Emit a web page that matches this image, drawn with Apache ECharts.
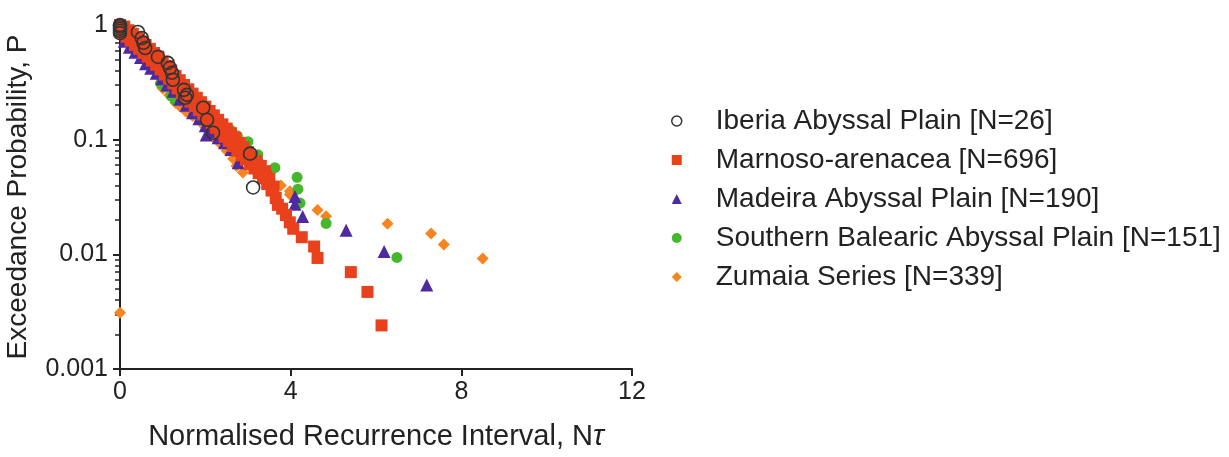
<!DOCTYPE html>
<html>
<head>
<meta charset="utf-8">
<script src="https://cdn.jsdelivr.net/npm/echarts@6/dist/echarts.min.js"></script>
<style>
html,body{margin:0;padding:0;background:#fff;}
#chart{width:1229px;height:457px;}
</style>
</head>
<body>
<div id="chart"></div>
<script>
// ---- Data ----
const seriesNames = [
  'Iberia Abyssal Plain [N=26]',
  'Marnoso-arenacea [N=696]',
  'Madeira Abyssal Plain [N=190]',
  'Southern Balearic Abyssal Plain [N=151]',
  'Zumaia Series [N=339]'
];
const xTicks = [0, 4, 8, 12];
const xTickLabels = ['0', '4', '8', '12'];
const yTicks = [0.001, 0.01, 0.1, 1];
const yTickLabels = ['0.001', '0.01', '0.1', '1'];
const yMinorTicks = [0.002,0.003,0.004,0.005,0.006,0.007,0.008,0.009,
  0.02,0.03,0.04,0.05,0.06,0.07,0.08,0.09,
  0.2,0.3,0.4,0.5,0.6,0.7,0.8,0.9];

const iberia = [
  [0,1.0],[0,0.97],[0,0.93],[0,0.89],[0,0.85],
  [0.42,0.87],[0.51,0.77],[0.55,0.70],[0.59,0.63],[0.89,0.527],
  [1.12,0.467],[1.17,0.423],[1.22,0.383],[1.24,0.333],[1.5,0.272],
  [1.57,0.246],[1.53,0.232],[1.95,0.19],[2.04,0.149],[2.18,0.115],
  [3.05,0.0755],[3.12,0.0383]
];
const marnoso = [
  [0.0,1.0],[0.1,0.97],[0.2,0.90],[0.3,0.84],[0.4,0.78],[0.5,0.72],[0.6,0.67],[0.7,0.62],[0.8,0.57],[0.9,0.53],
  [1.0,0.48],[1.1,0.44],[1.2,0.40],[1.3,0.36],[1.4,0.33],[1.5,0.30],[1.6,0.275],[1.7,0.252],[1.8,0.232],[1.9,0.212],
  [2.0,0.194],[2.1,0.178],[2.2,0.163],[2.3,0.149],[2.4,0.136],[2.5,0.125],[2.6,0.114],[2.7,0.103],[2.8,0.094],[2.9,0.086],
  [3.0,0.078],[3.1,0.071],[3.2,0.065],[3.3,0.059],[3.4,0.053],[3.5,0.046],[3.6,0.039],
  [0.05,0.86],[0.15,0.79],[0.25,0.73],[0.35,0.67],[0.45,0.62],[0.55,0.57],[0.65,0.53],[0.75,0.49],[0.85,0.45],[0.95,0.41],
  [1.05,0.37],[1.15,0.34],[1.25,0.31],[1.35,0.28],[1.45,0.255],[1.55,0.235],[1.65,0.215],[1.75,0.197],[1.85,0.181],[1.95,0.166],
  [2.05,0.152],[2.15,0.139],[2.25,0.127],[2.35,0.116],[2.45,0.106],[2.55,0.097],[2.65,0.088],[2.75,0.080],[2.85,0.073],[2.95,0.067],
  [3.05,0.061],[3.15,0.056],[3.25,0.051],[3.35,0.046],[3.45,0.041],[3.55,0.036],[3.65,0.031],
  [3.7,0.027],[3.8,0.025],[3.89,0.022],[3.98,0.019],[4.06,0.0167],[4.26,0.0141],[4.55,0.0117],[4.63,0.0093],
  [5.41,0.0070],[5.8,0.0047],[6.13,0.0024]
];
const madeira = [
  [0.1,0.72],[0.22,0.64],[0.35,0.58],[0.48,0.52],[0.6,0.46],[0.72,0.42],[0.85,0.38],[0.98,0.34],
  [1.1,0.30],[1.25,0.265],[1.4,0.225],[1.55,0.2],[1.7,0.172],[1.85,0.152],[2.0,0.132],[2.02,0.11],
  [2.15,0.118],[2.3,0.104],[2.45,0.094],[2.6,0.082],[2.77,0.063],
  [3.33,0.061],[3.47,0.053],[3.52,0.0445],[4.1,0.032],[4.1,0.0273],[4.28,0.0214],
  [5.3,0.0162],[6.19,0.0106],[7.19,0.0054]
];
const balearic = [
  [0.3,0.66],[0.6,0.5],[0.95,0.31],[1.05,0.29],[1.2,0.24],[1.3,0.22],
  [1.5,0.26],[1.7,0.21],[1.9,0.185],[2.1,0.165],
  [2.27,0.149],[2.41,0.13],[2.58,0.122],[2.75,0.108],[2.93,0.094],[3.0,0.096],[3.23,0.074],
  [3.63,0.057],[4.15,0.047],[4.17,0.037],[4.22,0.028],[4.83,0.0186],[6.49,0.0094]
];
const zumaia = [
  [0.0,0.0031],
  [0.4,0.62],[0.7,0.46],[1.0,0.28],[1.15,0.245],[1.3,0.21],[1.41,0.194],[1.55,0.175],[1.7,0.162],
  [1.87,0.145],[2.0,0.128],[2.18,0.106],[2.35,0.092],[2.5,0.08],[2.65,0.068],[2.73,0.059],[2.88,0.0516],
  [3.77,0.0399],[3.98,0.0355],[3.98,0.0333],[4.63,0.0243],[4.83,0.0215],
  [6.27,0.0185],[7.29,0.0152],[7.59,0.0122],[8.5,0.0092]
];

// ---- Chart ----
const FONT = '"Liberation Sans", Arial, Helvetica, sans-serif';
const TXT = '#222';
const chart = echarts.init(document.getElementById('chart'), null, {renderer: 'canvas'});

function scatter(name, data, symbol, size, color, z, extra) {
  return Object.assign({
    name: name, type: 'scatter', data: data, symbol: symbol, symbolSize: size,
    z: z, clip: false, itemStyle: {color: color, opacity: 1}, emphasis: {disabled: true}
  }, extra || {});
}

const option = {
  animation: false,
  backgroundColor: '#fff',
  textStyle: {fontFamily: FONT},
  grid: {left: 120, right: 597, top: 25, bottom: 88, containLabel: false},
  legend: {
    orient: 'vertical', left: 671, top: 107, padding: 0,
    itemWidth: 10, itemHeight: 10, itemGap: 11,
    selectedMode: false,
    textStyle: {fontFamily: FONT, fontSize: 28, color: TXT, lineHeight: 28, padding: [0, 0, 0, 29]},
    data: [
      {name: seriesNames[0], icon: 'circle', itemStyle: {color: 'transparent', borderColor: '#333', borderWidth: 1.5}},
      {name: seriesNames[1], icon: 'rect'},
      {name: seriesNames[2], icon: 'triangle'},
      {name: seriesNames[3], icon: 'circle'},
      {name: seriesNames[4], icon: 'diamond'}
    ]
  },
  xAxis: {
    type: 'value', min: 0, max: 12, interval: 4,
    name: 'Normalised Recurrence Interval, N{i|τ}',
    nameLocation: 'middle', nameGap: 53,
    nameTextStyle: {fontFamily: FONT, fontSize: 29, color: TXT, rich: {i: {fontFamily: FONT, fontSize: 29, fontStyle: 'italic', color: TXT}}},
    axisLine: {show: true, lineStyle: {color: '#222', width: 2}},
    axisTick: {show: true, length: 7, lineStyle: {color: '#222', width: 2}, customValues: xTicks},
    axisLabel: {fontFamily: FONT, fontSize: 25, color: TXT, margin: 11, customValues: xTicks,
      formatter: function (v) { const i = xTicks.indexOf(v); return i >= 0 ? xTickLabels[i] : ''; }},
    splitLine: {show: false}
  },
  yAxis: [{
    type: 'log', logBase: 10, min: 0.001, max: 1,
    name: 'Exceedance Probability, P',
    nameLocation: 'middle', nameGap: 88,
    nameTextStyle: {fontFamily: FONT, fontSize: 28, color: TXT},
    axisLine: {show: true, lineStyle: {color: '#222', width: 2}},
    axisTick: {show: true, length: 7, lineStyle: {color: '#222', width: 2}, customValues: yTicks},
    axisLabel: {fontFamily: FONT, fontSize: 25, color: TXT, margin: 12, customValues: yTicks,
      formatter: function (v) {
        for (let i = 0; i < yTicks.length; i++) { if (Math.abs(Math.log10(v) - Math.log10(yTicks[i])) < 1e-6) return yTickLabels[i]; }
        return '';
      }},
    splitLine: {show: false}, minorTick: {show: false}
  }, {
    type: 'log', logBase: 10, min: 0.001, max: 1, position: 'left', offset: 0,
    axisLine: {show: false},
    axisTick: {show: true, length: 5, lineStyle: {color: '#222', width: 1.5}, customValues: yMinorTicks},
    axisLabel: {show: false},
    splitLine: {show: false}
  }],
  series: [
    scatter(seriesNames[0], iberia, 'circle', 13, 'transparent', 6,
      {itemStyle: {color: 'transparent', borderColor: '#333', borderWidth: 1.6, opacity: 1}}),
    scatter(seriesNames[1], marnoso, 'rect', 12, '#E8411B', 5),
    scatter(seriesNames[2], madeira, 'triangle', 13, '#4E2AA0', 4),
    scatter(seriesNames[3], balearic, 'circle', 11, '#45B72B', 3),
    scatter(seriesNames[4], zumaia, 'diamond', 12, '#F7841F', 2)
  ]
};
chart.setOption(option);
</script>
</body>
</html>
